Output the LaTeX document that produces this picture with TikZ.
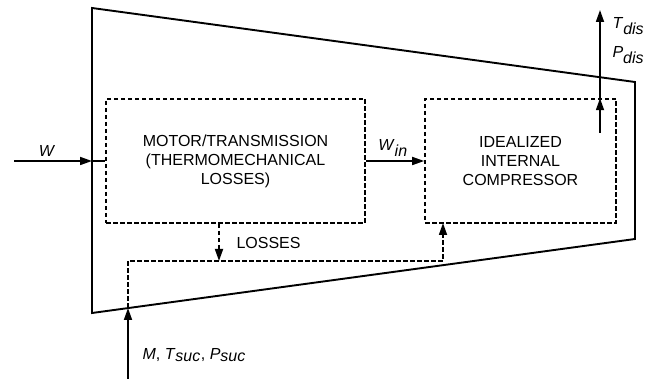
\documentclass[tikz,border=0pt]{standalone}
\usepackage{fontspec}
\setmainfont{Liberation Sans}
\usetikzlibrary{arrows.meta}

\begin{document}
\begin{tikzpicture}[x=1pt,y=-1pt,
    font=\fontsize{16}{19}\selectfont,
    wall/.style={line width=1.9pt, line join=miter},
    block/.style={draw, line width=1.6pt, dash pattern=on 4.5pt off 2.5pt, align=center, inner sep=0pt},
    flow/.style={line width=1.7pt, -{Triangle[length=12pt,width=8pt]}},
    dflow/.style={flow, dash pattern=on 4.5pt off 2.5pt}]
    \useasboundingbox (0,0) rectangle (646,379);

    % Define the corners of the casing
    \coordinate (topLeft) at (92, 8);
    \coordinate (topRight) at (635, 82);
    \coordinate (botRight) at (635, 239);
    \coordinate (botLeft) at (92, 313);

    % Draw the casing
    \draw[wall] (topLeft) -- (topRight) -- (botRight) -- (botLeft) -- cycle;

    % Draw the blocks
    \node[block, minimum width=259pt, minimum height=124pt] (motor) at (235.5, 161)
        {MOTOR/TRANSMISSION\\(THERMOMECHANICAL\\LOSSES)};
    \node[block, minimum width=191pt, minimum height=124pt] (comp) at (520.5, 161)
        {IDEALIZED\\INTERNAL\\COMPRESSOR};

    % Define the ends of the streams
    \coordinate (wIn) at (14, 161);
    \coordinate (wWall) at (92, 161);
    \coordinate (sucIn) at (128, 379);
    \coordinate (sucWall) at (128, 308);
    \coordinate (dischIn) at (600, 133);
    \coordinate (dischOut) at (600, 10);
    \coordinate (lossLow) at (219, 261);

    % Draw the work input
    \draw[flow] (wIn) -- (wWall);
    \draw[line width=1.7pt] (wWall) -- (motor.west);
    \node at (47, 151) {\textit{W}};

    % Draw the shaft work
    \draw[flow] (motor.east) -- (comp.west);
    \node at (393, 148) {\textit{W}$_{\textit{in}}$};

    % Draw the discharge
    \draw[flow] (dischIn) -- (dischIn |- comp.north);
    \draw[flow] (dischIn |- comp.north) -- (dischOut);
    \node[anchor=west] at (609, 26) {\textit{T}$_{\textit{dis}}$};
    \node[anchor=west] at (609, 55) {\textit{P}$_{\textit{dis}}$};

    % Draw the suction and the losses returned to it
    \draw[flow] (sucIn) -- (sucWall);
    \draw[dflow] (motor.south -| lossLow) -- (lossLow);
    \node[anchor=west] at (233, 243) {LOSSES};
    \draw[dflow] (sucWall) -- (sucWall |- lossLow) -- (443, 261) -- (443, 223);
    \node[anchor=west] at (139, 355) {\textit{M}, \textit{T}$_{\textit{suc}}$, \textit{P}$_{\textit{suc}}$};
\end{tikzpicture}
\end{document}
